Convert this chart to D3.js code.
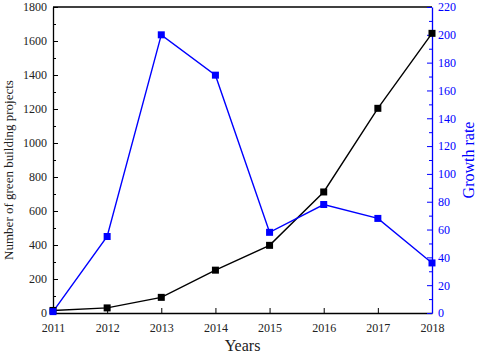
<!DOCTYPE html>
<html>
<head>
<meta charset="utf-8">
<script src="https://cdn.jsdelivr.net/npm/d3@7"></script>
<style>
  body { margin: 0; background: white; }
  text { font-family: "Liberation Serif", "Times New Roman", serif; }
</style>
</head>
<body>
<svg id="plot"></svg>
<script>
// Data
const years = [2011, 2012, 2013, 2014, 2015, 2016, 2017, 2018];
const projects = [15, 30, 92, 252, 398, 712, 1204, 1645];
const growth = [1, 55, 200, 171, 58, 78, 68, 36];

const leftTicks = d3.range(0, 1801, 200);
const rightTicks = d3.range(0, 221, 20);

let width = 480, height = 355;
let margin = { top: 7, bottom: 42, left: 53, right: 48 };

let svg = d3.select('#plot')
  .attr('width', width)
  .attr('height', height)
  .style('background', 'white');

let xScale = d3.scaleLinear()
  .domain([2011, 2018])
  .range([margin.left, width - margin.right]);

let yLeft = d3.scaleLinear()
  .domain([0, 1800])
  .range([height - margin.bottom, margin.top]);

let yRight = d3.scaleLinear()
  .domain([0, 220])
  .range([height - margin.bottom, margin.top]);

const blue = '#0000ff';
const fmt = d3.format('d');

// top frame line
svg.append('line')
  .attr('x1', margin.left).attr('x2', width - margin.right)
  .attr('y1', margin.top).attr('y2', margin.top)
  .attr('stroke', 'black').attr('stroke-width', 1.3);

// x axis
let xAxis = svg.append('g')
  .attr('transform', `translate(0, ${height - margin.bottom})`)
  .call(d3.axisBottom(xScale).tickValues(years).tickFormat(fmt)
    .tickSizeInner(-5).tickSizeOuter(0).tickPadding(10));
xAxis.select('.domain').attr('stroke-width', 1.3);
xAxis.selectAll('text').style('font-size', '12px').attr('fill', '#222');

// left axis with minor ticks
svg.append('g')
  .attr('transform', `translate(${margin.left}, 0)`)
  .call(d3.axisLeft(yLeft).tickValues(d3.range(100, 1800, 200)).tickSize(-3).tickFormat(''))
  .call(g => g.select('.domain').remove());
let yAxisL = svg.append('g')
  .attr('transform', `translate(${margin.left}, 0)`)
  .call(d3.axisLeft(yLeft).tickValues(leftTicks).tickFormat(fmt)
    .tickSizeInner(-5).tickSizeOuter(0).tickPadding(6));
yAxisL.select('.domain').attr('stroke-width', 1.3);
yAxisL.selectAll('text').style('font-size', '12px').attr('fill', '#222');

// right axis with minor ticks (blue)
svg.append('g')
  .attr('transform', `translate(${width - margin.right}, 0)`)
  .call(d3.axisRight(yRight).tickValues(d3.range(10, 220, 20)).tickSize(-3).tickFormat(''))
  .call(g => g.select('.domain').remove())
  .selectAll('line').attr('stroke', blue);
let yAxisR = svg.append('g')
  .attr('transform', `translate(${width - margin.right}, 0)`)
  .call(d3.axisRight(yRight).tickValues(rightTicks).tickFormat(fmt)
    .tickSizeInner(-5).tickSizeOuter(0).tickPadding(6));
yAxisR.select('.domain').attr('stroke', blue).attr('stroke-width', 1.3);
yAxisR.selectAll('line').attr('stroke', blue);
yAxisR.selectAll('text').style('font-size', '12px').attr('fill', blue);

// lines
let lineL = d3.line().x((d, i) => xScale(years[i])).y(d => yLeft(d));
let lineR = d3.line().x((d, i) => xScale(years[i])).y(d => yRight(d));

svg.append('path')
  .datum(projects)
  .attr('d', lineL)
  .attr('fill', 'none')
  .attr('stroke', 'black')
  .attr('stroke-width', 1.4);

svg.append('path')
  .datum(growth)
  .attr('d', lineR)
  .attr('fill', 'none')
  .attr('stroke', blue)
  .attr('stroke-width', 1.4);

// markers
let s = 7;
svg.selectAll('.mk-black')
  .data(projects)
  .enter()
  .append('rect')
  .attr('class', 'mk-black')
  .attr('x', (d, i) => xScale(years[i]) - s / 2)
  .attr('y', d => yLeft(d) - s / 2)
  .attr('width', s).attr('height', s)
  .attr('fill', 'black');

svg.selectAll('.mk-blue')
  .data(growth)
  .enter()
  .append('rect')
  .attr('class', 'mk-blue')
  .attr('x', (d, i) => xScale(years[i]) - s / 2)
  .attr('y', d => yRight(d) - s / 2)
  .attr('width', s).attr('height', s)
  .attr('fill', blue);

// axis titles
svg.append('text')
  .attr('x', (margin.left + width - margin.right) / 2)
  .attr('y', 351)
  .attr('text-anchor', 'middle')
  .style('font-size', '16px')
  .attr('fill', '#222')
  .text('Years');

svg.append('text')
  .attr('transform', `translate(13, ${yLeft(900) + 10}) rotate(-90)`)
  .attr('text-anchor', 'middle')
  .style('font-size', '13px')
  .attr('fill', '#222')
  .text('Number of green building projects');

svg.append('text')
  .attr('transform', `translate(474, ${yRight(110)}) rotate(-90)`)
  .attr('text-anchor', 'middle')
  .style('font-size', '16px')
  .attr('fill', blue)
  .text('Growth rate');
</script>
</body>
</html>
